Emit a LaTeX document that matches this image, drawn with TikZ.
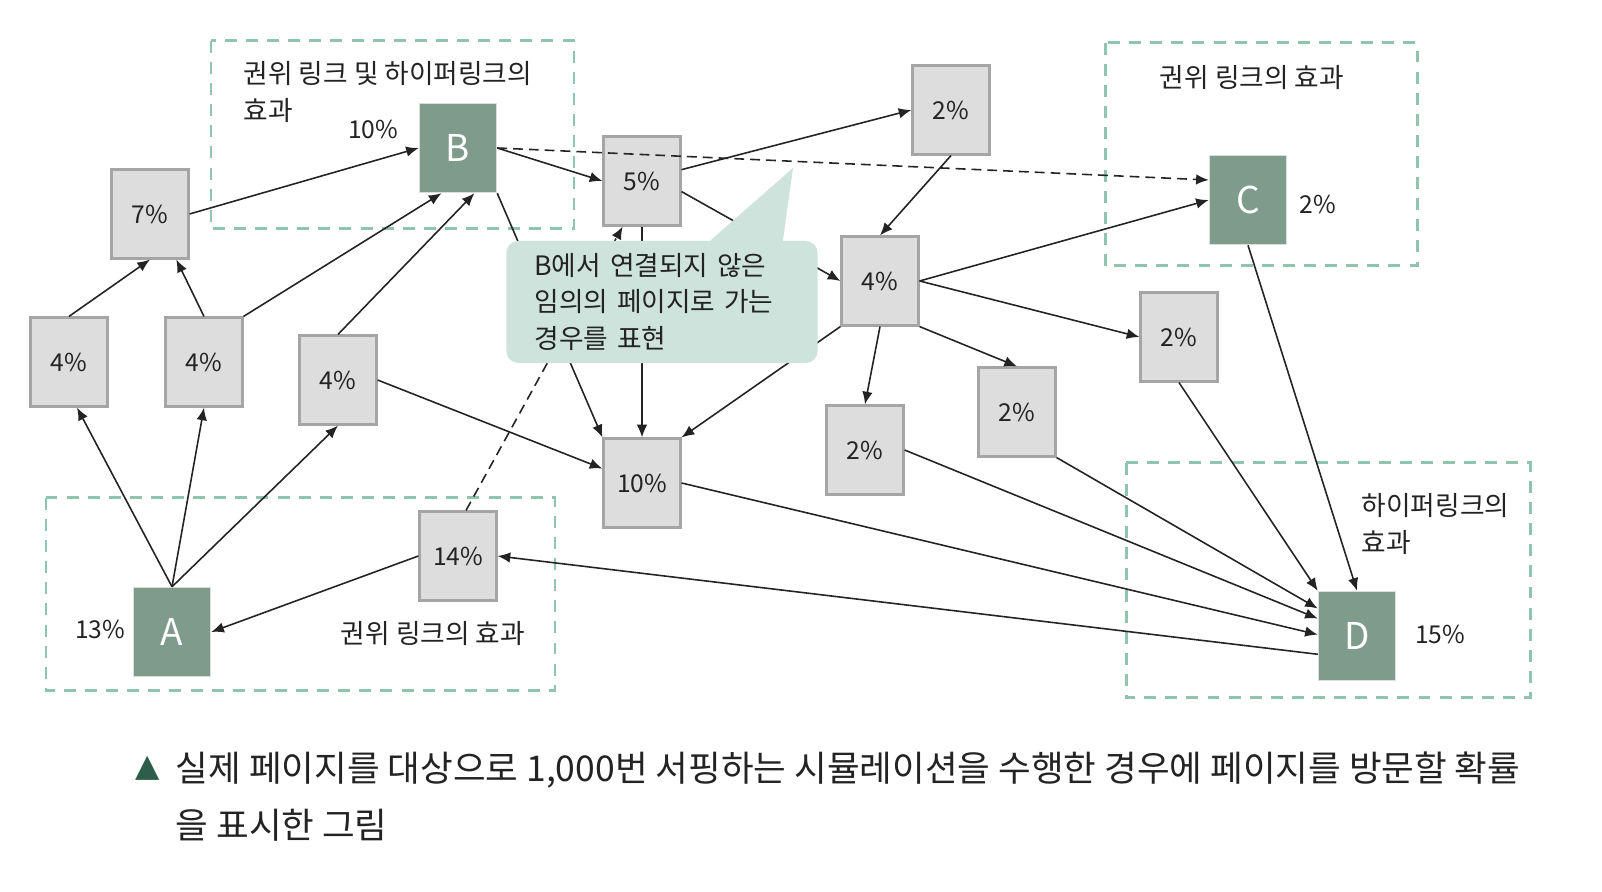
\documentclass[tikz,border=0pt]{standalone}
\usepackage{fontspec}
\setmainfont{Noto Sans CJK KR}
\newfontfamily\symfont{DejaVu Sans}
\usetikzlibrary{arrows.meta}
\definecolor{hubgreen}{RGB}{127,155,140}
\definecolor{pgfill}{RGB}{220,221,220}
\definecolor{pgline}{RGB}{165,165,165}
\definecolor{framegreen}{RGB}{143,196,174}
\definecolor{memofill}{RGB}{205,227,219}
\definecolor{markgreen}{RGB}{46,94,74}
\definecolor{ink}{RGB}{35,35,35}

\begin{document}
\begin{tikzpicture}[x=0.01cm,y=-0.01cm,text=ink,
  pg/.style={draw=pgline,fill=pgfill,line width=0.6pt,minimum width=0.77cm,minimum height=0.89cm,inner sep=0pt,font=\fontsize{7}{8}\selectfont},
  hub/.style={draw=pgfill,fill=hubgreen,line width=0.4pt,minimum width=0.77cm,minimum height=0.89cm,inner sep=0pt,text=white,font=\fontsize{10.5}{12}\selectfont},
  frame/.style={draw=framegreen,line width=0.85pt,dash pattern=on 3.4pt off 2.6pt},
  link/.style={draw=ink,-{Latex[length=3.6pt,width=3pt]},line width=0.45pt},
  jump/.style={link,dash pattern=on 2.8pt off 1.7pt},
  lbl/.style={font=\fontsize{7.6}{10.5}\selectfont,align=left,inner sep=0pt},
  pct/.style={font=\fontsize{7}{8}\selectfont,inner sep=0pt}]
\useasboundingbox (0,0) rectangle (1602,892);

\draw[frame] (211,41) rectangle (574,229);
\draw[frame] (1105,43) rectangle (1417,266);
\draw[frame] (46,498) rectangle (555,691);
\draw[frame] (1126,463) rectangle (1530,698);

\node[pg] (p7) at (150,214) {7\%};
\node[pg] (p4a) at (69,362) {4\%};
\node[pg] (p4b) at (204,362) {4\%};
\node[pg] (p4c) at (338,380) {4\%};
\node[hub] (B) at (458,148) {B};
\node[pg] (p5) at (642,181) {5\%};
\node[pg] (p2t) at (951,110) {2\%};
\node[pg] (p4m) at (880,281) {4\%};
\node[hub] (C) at (1248,200) {C};
\node[pg] (p2r) at (1179,337) {2\%};
\node[pg] (p2m) at (1017,412) {2\%};
\node[pg] (p2l) at (865,450) {2\%};
\node[pg] (p10) at (642,483) {10\%};
\node[pg] (p14) at (458,556) {14\%};
\node[hub] (A) at (172,632) {A};
\node[hub] (D) at (1357,636) {D};

\node[lbl,anchor=north west] (capB) at (243,61) {권위 링크 및 하이퍼링크의\\효과};
\node[lbl] (capC) at (1252,78) {권위 링크의 효과};
\node[lbl] (capA) at (433,634) {권위 링크의 효과};
\node[lbl,anchor=north west] (capD) at (1361,493) {하이퍼링크의\\효과};
\node[pct] (rB) at (373,129) {10\%};
\node[pct] (rA) at (100,629) {13\%};
\node[pct] (rC) at (1318,204) {2\%};
\node[pct] (rD) at (1440,634) {15\%};

\draw[link] (A.north) -- (p4a.-80);
\draw[link] (A.north) -- (p4b.south);
\draw[link] (A.north) -- (p4c.south);
\draw[link] (p4a.north) -- (p7.south);
\draw[link] (p4b.north) -- (p7.-60);
\draw[link] (p4b.north east) -- (B.250);
\draw[link] (p4c.north) -- (B.290);
\draw[link] (p7.east) -- (B.west);
\draw[link] (p4c.east) -- (p10.160);
\draw[link] (p14.west) -- (A.east);
\draw[link] (D.205) -- (p14.east);
\draw[link] (B.east) -- (p5.west);
\draw[jump] (B.east) -- (C.153);
\draw[link] (B.south east) -- (p10.north west);
\draw[jump] (p14.80) -- (p5.247);
\draw[link] (p5.16) -- (p2t.west);
\draw[link] (p5.-15) -- (p4m.west);
\draw[link] (p5.south) -- (p10.north);
\draw[link] (p2t.south) -- (p4m.north);
\draw[link] (p4m.south west) -- (p10.north east);
\draw[link] (p4m.east) -- (C.west);
\draw[link] (p4m.east) -- (p2r.west);
\draw[link] (p4m.south east) -- (p2m.north);
\draw[link] (p4m.south) -- (p2l.north);
\draw[link] (C.south) -- (D.north);
\draw[link] (p2r.south) -- (D.north west);
\draw[link] (p2m.south east) -- (D.145);
\draw[link] (p2l.east) -- (D.156);
\draw[link] (p10.east) -- (D.178);

\node[lbl,fill=memofill,rounded corners=3.4pt,minimum height=1.22cm,text width=2.55cm,inner xsep=0.28cm] (memo) at (662,302) {B에서 연결되지 않은\\임의의 페이지로 가는\\경우를 표현};
\coordinate (tip) at (793,168);
\fill[memofill] (703,247) -- (tip) -- (782,247) -- cycle;

\node[text=markgreen,font=\symfont\fontsize{9}{10}\selectfont] (mark) at (148,768) {▲};
\node[anchor=north west,align=left,inner sep=0pt,font=\fontsize{10.1}{16.2}\selectfont] (fig) at (175,751) {실제 페이지를 대상으로 1,000번 서핑하는 시뮬레이션을 수행한 경우에 페이지를 방문할 확률\\을 표시한 그림};
\end{tikzpicture}
\end{document}
